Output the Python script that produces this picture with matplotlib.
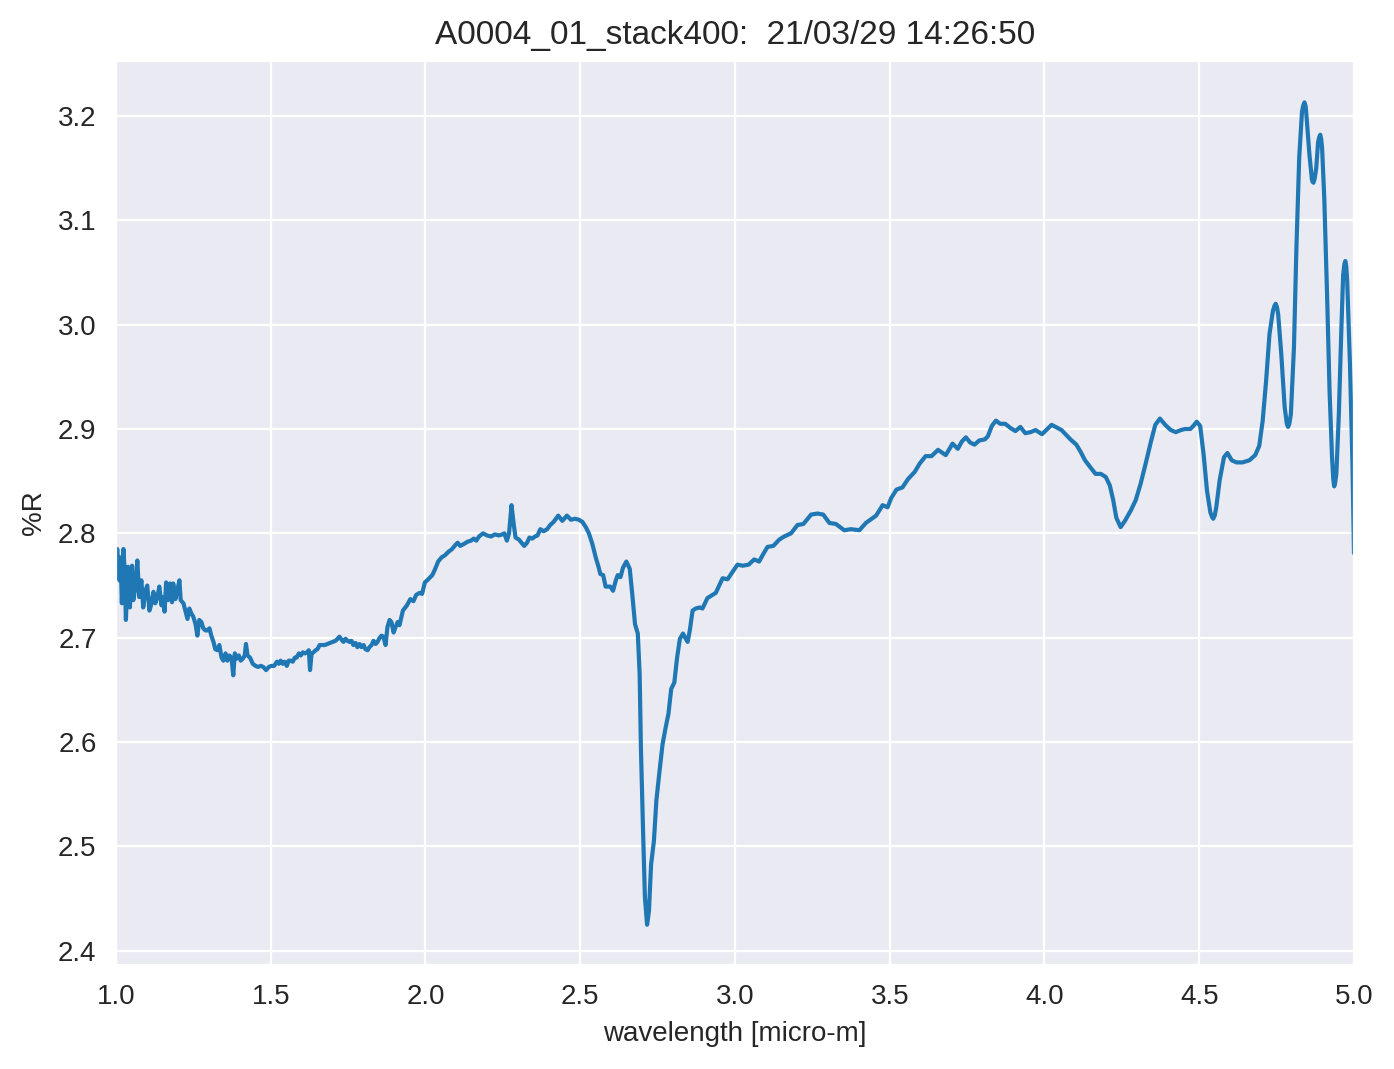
import matplotlib
matplotlib.use("Agg")
import matplotlib.pyplot as plt
import seaborn as sns

# spectrum (wavelength in micro-m, reflectance in %)
wavelength = [
    1.000, 1.004, 1.011, 1.015, 1.019, 1.024, 1.028, 1.032, 1.039, 1.045,
    1.052, 1.056, 1.063, 1.069, 1.075, 1.082, 1.088, 1.095, 1.101, 1.108,
    1.115, 1.121, 1.127, 1.134, 1.140, 1.147, 1.153, 1.157, 1.162, 1.168,
    1.175, 1.181, 1.185, 1.192, 1.198, 1.205, 1.209, 1.218, 1.224, 1.231,
    1.237, 1.244, 1.250, 1.257, 1.263, 1.269, 1.276, 1.282, 1.289, 1.295,
    1.302, 1.308, 1.315, 1.321, 1.328, 1.334, 1.341, 1.347, 1.354, 1.360,
    1.366, 1.373, 1.379, 1.384, 1.390, 1.397, 1.403, 1.410, 1.416, 1.420,
    1.425, 1.433, 1.442, 1.451, 1.459, 1.468, 1.476, 1.485, 1.494, 1.502,
    1.511, 1.520, 1.526, 1.532, 1.539, 1.545, 1.552, 1.558, 1.565, 1.571,
    1.578, 1.584, 1.591, 1.597, 1.604, 1.610, 1.617, 1.623, 1.627, 1.632,
    1.638, 1.645, 1.651, 1.658, 1.666, 1.675, 1.683, 1.692, 1.701, 1.709,
    1.716, 1.722, 1.729, 1.735, 1.742, 1.748, 1.755, 1.761, 1.767, 1.774,
    1.780, 1.787, 1.793, 1.800, 1.806, 1.813, 1.819, 1.826, 1.832, 1.839,
    1.845, 1.852, 1.858, 1.864, 1.871, 1.877, 1.884, 1.890, 1.897, 1.903,
    1.910, 1.916,
    1.927, 1.940, 1.951, 1.961, 1.970, 1.981, 1.989, 1.998, 2.009, 2.022,
    2.030, 2.041, 2.052, 2.063, 2.073, 2.086, 2.097, 2.104, 2.112, 2.125,
    2.136, 2.147, 2.156, 2.164, 2.173, 2.186, 2.199, 2.212, 2.224, 2.237,
    2.248, 2.255, 2.263, 2.270, 2.278, 2.285, 2.291, 2.302, 2.313, 2.319,
    2.328, 2.336, 2.345, 2.354, 2.362, 2.371, 2.382, 2.393, 2.403, 2.414,
    2.429, 2.442, 2.457, 2.470, 2.483, 2.496, 2.507, 2.518, 2.528, 2.539,
    2.550, 2.559, 2.565, 2.574, 2.582, 2.591, 2.597, 2.606, 2.615, 2.621,
    2.630, 2.638, 2.649, 2.660, 2.668, 2.677, 2.686, 2.692, 2.696, 2.703,
    2.709, 2.716, 2.722, 2.729, 2.738, 2.746, 2.755, 2.766,
    2.776, 2.785, 2.794, 2.804, 2.813, 2.822, 2.832, 2.841, 2.847, 2.854,
    2.863, 2.873, 2.886,
    2.895, 2.911, 2.938, 2.960, 2.976, 2.992, 3.008, 3.025, 3.044, 3.062,
    3.078, 3.091, 3.105, 3.124, 3.143, 3.159, 3.181, 3.202, 3.221, 3.246,
    3.267, 3.285, 3.305, 3.326, 3.353, 3.375, 3.402, 3.423, 3.456, 3.477,
    3.493,
    3.505, 3.522, 3.541, 3.559, 3.581, 3.597, 3.616, 3.635, 3.656, 3.681,
    3.703, 3.720, 3.733, 3.746, 3.760, 3.774, 3.789, 3.807, 3.817, 3.830,
    3.843, 3.857, 3.873, 3.890, 3.906, 3.922, 3.938, 3.955, 3.971, 3.992,
    4.009, 4.023, 4.036, 4.055, 4.068, 4.084, 4.103, 4.117, 4.131, 4.149,
    4.165, 4.182, 4.198, 4.211, 4.222, 4.232, 4.246, 4.260, 4.279, 4.295,
    4.311, 4.327, 4.344, 4.358, 4.373, 4.390, 4.408, 4.424,
    4.441, 4.454, 4.471, 4.481, 4.492, 4.503, 4.514, 4.525, 4.536, 4.541,
    4.545, 4.550, 4.555, 4.566, 4.580, 4.591, 4.605, 4.620, 4.640, 4.662,
    4.681, 4.694, 4.705, 4.716, 4.727, 4.738, 4.743, 4.747, 4.751, 4.755,
    4.765, 4.776, 4.783, 4.787, 4.791, 4.796, 4.806, 4.814, 4.823, 4.832,
    4.836, 4.840, 4.844, 4.847, 4.856, 4.864, 4.866, 4.869, 4.873, 4.878,
    4.884, 4.888, 4.891, 4.894, 4.897, 4.904, 4.913, 4.921, 4.929, 4.933,
    4.936, 4.939, 4.943, 4.951, 4.959, 4.965, 4.969, 4.972, 4.975, 4.978,
    4.987, 4.995, 5.000,
]
reflectance = [
    2.768, 2.785, 2.755, 2.777, 2.733, 2.785, 2.765, 2.717, 2.768, 2.729,
    2.769, 2.736, 2.749, 2.774, 2.739, 2.755, 2.729, 2.745, 2.750, 2.726,
    2.733, 2.744, 2.733, 2.739, 2.749, 2.731, 2.739, 2.725, 2.753, 2.736,
    2.752, 2.734, 2.752, 2.737, 2.745, 2.755, 2.736, 2.733, 2.726, 2.718,
    2.728, 2.723, 2.720, 2.713, 2.702, 2.717, 2.715, 2.709, 2.707, 2.707,
    2.709, 2.702, 2.696, 2.689, 2.688, 2.693, 2.681, 2.678, 2.685, 2.678,
    2.683, 2.681, 2.664, 2.685, 2.680, 2.683, 2.678, 2.680, 2.683, 2.694,
    2.683, 2.681, 2.675, 2.673, 2.672, 2.673, 2.672, 2.669, 2.672, 2.673,
    2.673, 2.677, 2.675, 2.678, 2.675, 2.677, 2.673, 2.678, 2.678, 2.677,
    2.681, 2.681, 2.685, 2.683, 2.686, 2.685, 2.686, 2.688, 2.669, 2.685,
    2.686, 2.688, 2.689, 2.693, 2.693, 2.693, 2.694, 2.695, 2.696, 2.697,
    2.699, 2.701, 2.698, 2.696, 2.699, 2.697, 2.696, 2.697, 2.693, 2.695,
    2.691, 2.694, 2.691, 2.693, 2.689, 2.688, 2.691, 2.693, 2.697, 2.694,
    2.696, 2.700, 2.702, 2.701, 2.693, 2.710, 2.717, 2.715, 2.705, 2.710,
    2.715, 2.712,
    2.726, 2.731, 2.737, 2.735, 2.741, 2.743, 2.742, 2.753, 2.756, 2.760,
    2.765, 2.773, 2.777, 2.779, 2.782, 2.785, 2.789, 2.791, 2.788, 2.790,
    2.792, 2.793, 2.795, 2.793, 2.797, 2.800, 2.798, 2.797, 2.799, 2.798,
    2.799, 2.800, 2.793, 2.800, 2.827, 2.809, 2.796, 2.794, 2.790, 2.788,
    2.791, 2.796, 2.795, 2.797, 2.798, 2.804, 2.802, 2.804, 2.808, 2.811,
    2.817, 2.812, 2.817, 2.813, 2.814, 2.813, 2.811, 2.806, 2.800, 2.790,
    2.777, 2.768, 2.761, 2.760, 2.749, 2.749, 2.749, 2.745, 2.755, 2.760,
    2.758, 2.767, 2.773, 2.766, 2.742, 2.713, 2.704, 2.665, 2.595, 2.515,
    2.451, 2.425, 2.438, 2.483, 2.505, 2.544, 2.569, 2.598,
    2.614, 2.627, 2.651, 2.657, 2.681, 2.699, 2.704, 2.699, 2.696, 2.707,
    2.726, 2.728, 2.729,
    2.728, 2.738, 2.743, 2.757, 2.756, 2.763, 2.770, 2.769, 2.770, 2.775,
    2.773, 2.780, 2.787, 2.788, 2.794, 2.797, 2.800, 2.808, 2.809, 2.818,
    2.819, 2.818, 2.810, 2.809, 2.803, 2.804, 2.803, 2.810, 2.817, 2.827,
    2.825,
    2.834, 2.842, 2.844, 2.852, 2.859, 2.867, 2.874, 2.874, 2.880, 2.875,
    2.886, 2.881, 2.888, 2.892, 2.887, 2.885, 2.889, 2.890, 2.893, 2.903,
    2.908, 2.905, 2.905, 2.901, 2.898, 2.902, 2.896, 2.897, 2.899, 2.895,
    2.900, 2.904, 2.902, 2.899, 2.895, 2.890, 2.885, 2.878, 2.870, 2.863,
    2.857, 2.857, 2.854, 2.846, 2.832, 2.815, 2.806, 2.812, 2.822, 2.832,
    2.848, 2.867, 2.888, 2.904, 2.910, 2.904, 2.899, 2.897,
    2.899, 2.900, 2.900, 2.903, 2.907, 2.903, 2.876, 2.841, 2.820, 2.816,
    2.814, 2.817, 2.825, 2.851, 2.873, 2.877, 2.870, 2.868, 2.868, 2.870,
    2.875, 2.884, 2.908, 2.946, 2.991, 3.013, 3.018, 3.020, 3.017, 3.010,
    2.972, 2.921, 2.905, 2.902, 2.905, 2.914, 2.978, 3.074, 3.160, 3.204,
    3.210, 3.213, 3.209, 3.198, 3.163, 3.139, 3.137, 3.136, 3.140, 3.150,
    3.175, 3.180, 3.182, 3.178, 3.169, 3.121, 3.029, 2.937, 2.873, 2.852,
    2.845, 2.848, 2.857, 2.914, 2.994, 3.048, 3.058, 3.061, 3.056, 3.042,
    2.962, 2.867, 2.781,
]

title = "A0004_01_stack400:  21/03/29 14:26:50"

sns.set_style("darkgrid")
plt.rcParams["font.family"] = ["Liberation Sans", "DejaVu Sans"]

fig, ax = plt.subplots(figsize=(6.97, 5.345), dpi=200)
fig.subplots_adjust(left=0.0832, right=0.9713, top=0.943, bottom=0.0975)

ax.plot(wavelength, reflectance, color="#1f77b4", lw=1.5)
ax.set_xlim(1.0, 5.0)
ax.set_ylim(2.3866, 3.2527)
ax.set_xlabel("wavelength [micro-m]")
ax.set_ylabel("%R")
ax.set_title(title, fontsize=12)

fig.savefig("out.png", dpi=200)
